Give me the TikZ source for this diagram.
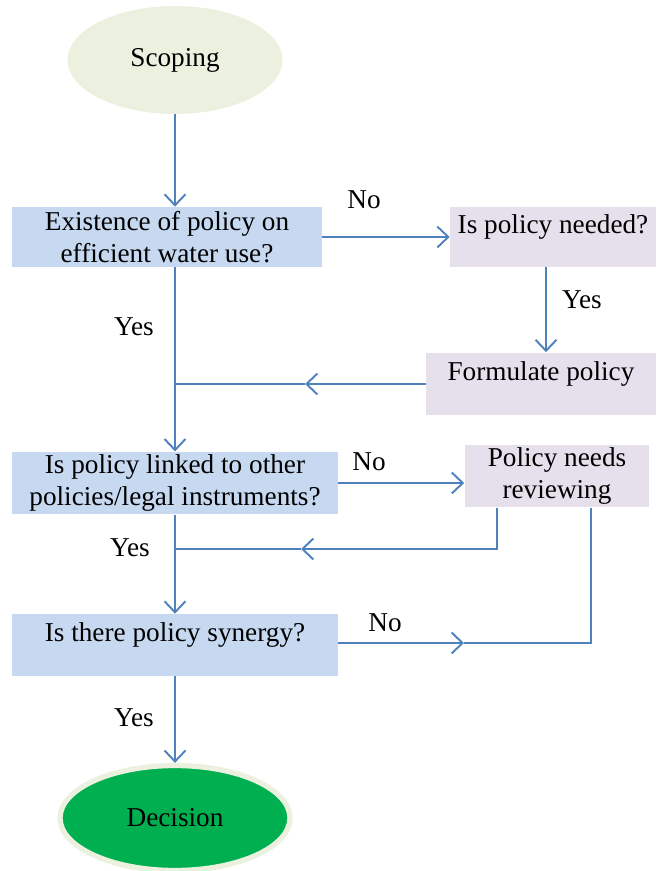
\documentclass[tikz,border=0pt]{standalone}
\usepackage{fontspec}
\setmainfont{Liberation Serif}
\usetikzlibrary{shapes.geometric,arrows.meta}

\definecolor{boxblue}{HTML}{C6D9F1}
\definecolor{boxlav}{HTML}{E6E0EC}
\definecolor{scopefill}{HTML}{EBF1DE}
\definecolor{decgreen}{HTML}{00B050}
\definecolor{arrblue}{HTML}{4F81BD}

\tikzset{
    qbox/.style={rectangle, fill=boxblue, minimum height=1.2cm, align=center, inner sep=0pt},
    lbox/.style={rectangle, fill=boxlav, minimum height=1.2cm, align=center, inner sep=0pt},
    oval/.style={ellipse, inner sep=0pt},
    flow/.style={draw=arrblue, line width=1.1pt},
    arr/.style={flow, -{Straight Barb[length=0.22cm, width=0.42cm, line width=1.1pt]}},
    lbl/.style={inner sep=0pt}
}

\begin{document}
\begin{tikzpicture}[x=0.02cm, y=-0.02cm, font=\fontsize{15.5}{18}\selectfont]
    \useasboundingbox (0,0) rectangle (656,871);

    % Start and end
    \node[oval, fill=scopefill, minimum width=4.3cm, minimum height=2.16cm] (scope) at (175,60) {Scoping};
    \node[oval, fill=decgreen, draw=scopefill, line width=3pt, minimum width=4.6cm, minimum height=2.1cm] (decision) at (175,818) {Decision};

    % Question boxes
    \node[qbox, minimum width=6.2cm] (exist) at (167,237) {Existence of policy on\\efficient water use?};
    \node[qbox, minimum width=6.52cm, minimum height=1.25cm] (linked) at (175,483) {Is policy linked to other\\policies/legal instruments?};
    \node[qbox, minimum width=6.52cm, minimum height=1.24cm] (synergy) at (175,645) {Is there policy synergy?\\[-9pt]\strut};

    % Side boxes
    \node[lbox, minimum width=4.12cm] (need) at (553,237) {Is policy needed?\\[-9pt]\strut};
    \node[lbox, minimum width=4.6cm, minimum height=1.26cm] (formulate) at (541,384) {Formulate policy\\[-9pt]\strut};
    \node[lbox, minimum width=3.7cm, minimum height=1.25cm] (review) at (557,476) {Policy needs\\reviewing};

    % Labels
    \node[lbl] (no1) at (364,200) {No};
    \node[lbl] (yes1) at (582,300) {Yes};
    \node[lbl] (yes2) at (134,327) {Yes};
    \node[lbl] (no2) at (369,462) {No};
    \node[lbl] (yes3) at (130,548) {Yes};
    \node[lbl] (no3) at (385,623) {No};
    \node[lbl] (yes4) at (134,718) {Yes};

    % Helper points
    \coordinate (spine) at (175,0);
    \coordinate (rx) at (546,0);
    \coordinate (m1) at (305,384);
    \coordinate (j1) at (175,384);
    \coordinate (rv1) at (497,549);
    \coordinate (m2) at (301,549);
    \coordinate (j2) at (175,549);
    \coordinate (m3) at (464,643);
    \coordinate (rv2) at (591,643);

    % Arrows
    \draw[arr] (scope.south) -- (exist.north -| spine);
    \draw[arr] (exist.east) -- (need.west);
    \draw[arr] (need.south -| rx) -- (formulate.north -| rx);
    \draw[arr] (formulate.west) -- (m1);
    \draw[flow] (m1) -- (j1);
    \draw[arr] (exist.south -| spine) -- (linked.north);
    \draw[arr] (linked.east) -- (review.west |- linked.east);
    \draw[arr] (review.south -| rv1) |- (m2);
    \draw[flow] (m2) -- (j2);
    \draw[arr] (linked.south) -- (synergy.north);
    \draw[arr] (synergy.east |- m3) -- (m3);
    \draw[flow] (m3) -- (rv2) -- (review.south -| rv2);
    \draw[arr] (synergy.south) -- (decision.north);

\end{tikzpicture}
\end{document}
